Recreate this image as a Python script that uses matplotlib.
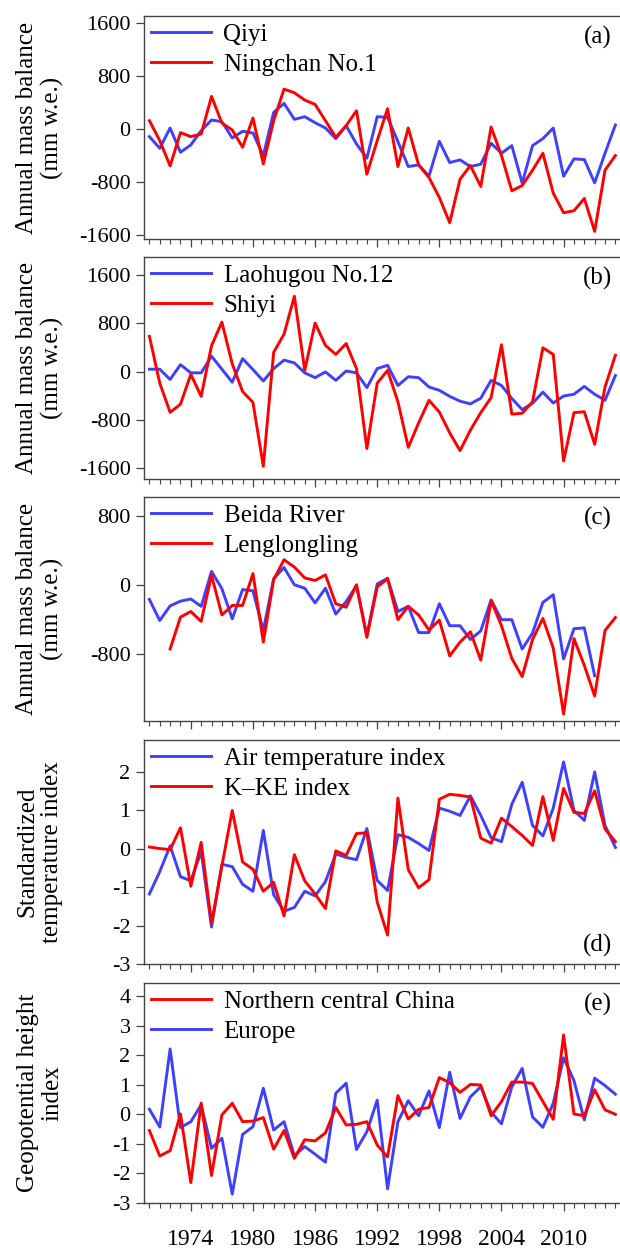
import numpy as np
import matplotlib
matplotlib.use("Agg")
from matplotlib import pyplot as plt

years = np.arange(1970, 2016)
nan = np.nan

# (a) annual mass balance, mm w.e.
qiyi = [-115, -290, 15, -350, -240, -25, 135, 110, -135, -35,
        -60, -400, 250, 385, 145, 185, 95, 15, -145, 50,
        -225, -440, 185, 175, -190, -565, -540, -710, -185, -505,
        -465, -565, -530, -215, -365, -250, -815, -250, -145, 15,
        -710, -450, -460, -810, -365, 60]
ningchan = [125, -175, -555, -55, -115, -75, 490, 90, -15, -275,
            165, -525, 125, 600, 545, 435, 370, 125, -125, 50,
            275, -680, -175, 305, -565, 15, -540, -730, -1030, -1410,
            -755, -550, -865, 30, -400, -930, -850, -620, -365, -965,
            -1260, -1230, -1045, -1540, -620, -400]

# (b)
laohugou = [40, 40, -130, 115, -20, -20, 255, 40, -175, 215,
            35, -155, 50, 190, 145, -20, -100, -5, -145, 10,
            -20, -265, 50, 105, -230, -85, -100, -255, -310, -410,
            -490, -535, -440, -145, -230, -445, -630, -525, -340, -520,
            -405, -375, -245, -375, -475, -65]
shiyi = [585, -190, -675, -540, -45, -410, 430, 820, 130, -330,
         -510, -1570, 320, 620, 1250, 20, 805, 435, 285, 465,
         50, -1275, -190, 20, -500, -1255, -850, -475, -670, -1015,
         -1310, -970, -680, -430, 445, -705, -690, -500, 395, 285,
         -1480, -680, -665, -1205, -255, 270]

# (c)
beida = [-170, -415, -245, -190, -165, -250, 155, -45, -395, -55,
         -70, -530, 70, 200, 0, -40, -210, -40, -340, -195,
         -10, -590, 10, 75, -310, -250, -555, -555, -220, -475,
         -475, -635, -535, -175, -405, -405, -745, -560, -205, -115,
         -860, -510, -500, -1055, nan, nan]
lenglongling = [nan, nan, -745, -375, -310, -425, 110, -350, -240, -240,
                130, -665, 60, 290, 205, 80, 50, 115, -220, -260,
                0, -610, -25, 70, -405, -250, -350, -525, -410, -825,
                -665, -545, -875, -185, -475, -855, -1065, -635, -390, -735,
                -1500, -625, -935, -1290, -530, -380]

# (d) standardized temperature index
air_temp = [-1.18, -0.60, 0.07, -0.73, -0.84, -0.08, -2.04, -0.41, -0.47, -0.93,
            -1.11, 0.47, -1.20, -1.63, -1.53, -1.11, -1.23, -0.86, -0.14, -0.23,
            -0.29, 0.52, -0.83, -1.09, 0.36, 0.29, 0.13, -0.05, 1.05, 0.97,
            0.86, 1.37, 0.86, 0.28, 0.18, 1.15, 1.72, 0.60, 0.33, 1.05,
            2.25, 0.99, 0.73, 1.99, 0.60, 0.03]
kke = [0.04, 0.00, -0.03, 0.54, -0.98, 0.16, -1.94, -0.45, 0.99, -0.35,
       -0.54, -1.11, -0.88, -1.75, -0.16, -0.84, -1.18, -1.56, -0.06, -0.18,
       0.39, 0.41, -1.39, -2.25, 1.31, -0.55, -1.02, -0.81, 1.28, 1.41,
       1.38, 1.34, 0.27, 0.14, 0.79, 0.57, 0.34, 0.08, 1.35, 0.21,
       1.56, 0.94, 0.91, 1.50, 0.51, 0.18]

# (e) geopotential height index
nc_china = [-0.55, -1.41, -1.23, 0.01, -2.31, 0.38, -2.07, -0.02, 0.37, -0.25,
            -0.23, -0.11, -1.18, -0.55, -1.49, -0.86, -0.90, -0.63, 0.23, -0.36,
            -0.34, -0.25, -1.04, -1.44, 0.63, -0.16, 0.17, 0.23, 1.24, 1.07,
            0.74, 1.01, 0.99, -0.05, 0.43, 1.09, 1.09, 1.04, 0.43, -0.17,
            2.68, 0.01, -0.05, 0.83, 0.15, 0.00]
europe = [0.17, -0.43, 2.21, -0.45, -0.25, 0.32, -1.15, -0.81, -2.70, -0.68,
          -0.42, 0.88, -0.53, -0.25, -1.40, -1.09, -1.35, -1.62, 0.71, 1.05,
          -1.19, -0.59, 0.48, -2.52, -0.25, 0.46, -0.05, 0.79, -0.45, 1.42,
          -0.14, 0.59, 0.93, 0.07, -0.32, 0.93, 1.55, -0.09, -0.44, 0.37,
          1.91, 1.14, -0.19, 1.22, 0.97, 0.68]

BLUE = '#3f3fff'
RED = '#ff0000'

panels = [
    dict(series=[(qiyi, 'Qiyi', BLUE), (ningchan, 'Ningchan No.1', RED)],
         order=[0, 1], ylim=(-1655, 1700), yticks=[-1600, -800, 0, 800, 1600],
         ylabel='Annual mass balance\n(mm w.e.)', tag='(a)', tagpos='top'),
    dict(series=[(laohugou, 'Laohugou No.12', BLUE), (shiyi, 'Shiyi', RED)],
         order=[0, 1], ylim=(-1780, 1900), yticks=[-1600, -800, 0, 800, 1600],
         ylabel='Annual mass balance\n(mm w.e.)', tag='(b)', tagpos='top'),
    dict(series=[(beida, 'Beida River', BLUE), (lenglongling, 'Lenglongling', RED)],
         order=[0, 1], ylim=(-1580, 1018), yticks=[-800, 0, 800],
         ylabel='Annual mass balance\n(mm w.e.)', tag='(c)', tagpos='top'),
    dict(series=[(air_temp, 'Air temperature index', BLUE), (kke, 'K\u2013KE index', RED)],
         order=[0, 1], ylim=(-3, 2.82), yticks=[-3, -2, -1, 0, 1, 2],
         ylabel='Standardized\ntemperature index', tag='(d)', tagpos='bottom'),
    dict(series=[(europe, 'Europe', BLUE), (nc_china, 'Northern central China', RED)],
         order=[1, 0], ylim=(-3, 4.44), yticks=[-3, -2, -1, 0, 1, 2, 3, 4],
         ylabel='Geopotential height\nindex', tag='(e)', tagpos='top'),
]

plt.rcParams['font.family'] = ['Liberation Serif', 'DejaVu Serif']
plt.rcParams['axes.unicode_minus'] = False

W, H = 620, 1250
fig = plt.figure(figsize=(W / 100, H / 100), dpi=100)

# panel boxes in pixels (top, bottom)
boxes = [(16, 239), (257, 479), (497, 721), (740, 964), (983, 1203)]
left, right = 143.5, 619
TICKC = '#444444'

for i, (p, (top, bot)) in enumerate(zip(panels, boxes)):
    ax = fig.add_axes([left / W, 1 - bot / H, (right - left) / W, (bot - top) / H])
    lines = []
    for vals, name, col in p['series']:
        ln, = ax.plot(years, vals, color=col, lw=2.1, label=name)
        lines.append(ln)
    handles = [lines[k] for k in p['order']]
    ax.legend(handles=handles, loc='upper left', frameon=False, fontsize=18,
              handlelength=2.4, handletextpad=0.5, labelspacing=0.3,
              borderaxespad=0.0, borderpad=0.3)

    ax.set_xlim(1969.43, 2015.35)
    ax.set_ylim(*p['ylim'])
    ax.set_yticks(p['yticks'])
    ax.set_xticks(np.arange(1974, 2011, 6))
    ax.set_xticks(years, minor=True)
    ax.tick_params(axis='y', labelsize=16, length=5.8, width=0.9, color=TICKC)
    ax.tick_params(axis='x', which='major', length=5.8, width=0.9, color=TICKC,
                   labelsize=17, pad=13)
    ax.tick_params(axis='x', which='minor', length=3.6, width=0.8, color=TICKC)
    if i < len(panels) - 1:
        ax.tick_params(axis='x', labelbottom=False)

    for side in ['left', 'top', 'bottom']:
        ax.spines[side].set_color(TICKC)
        ax.spines[side].set_linewidth(1.0)
    ax.spines['right'].set_visible(False)

    ax.text(-0.218, 0.5, p['ylabel'], transform=ax.transAxes, rotation=90,
            ha='center', va='center', fontsize=18, linespacing=1.15)

    if p['tagpos'] == 'top':
        ax.text(0.985, 0.955, p['tag'], transform=ax.transAxes, ha='right',
                va='top', fontsize=18)
    else:
        ax.text(0.985, 0.03, p['tag'], transform=ax.transAxes, ha='right',
                va='bottom', fontsize=18)

fig.savefig('out.png', dpi=100)
